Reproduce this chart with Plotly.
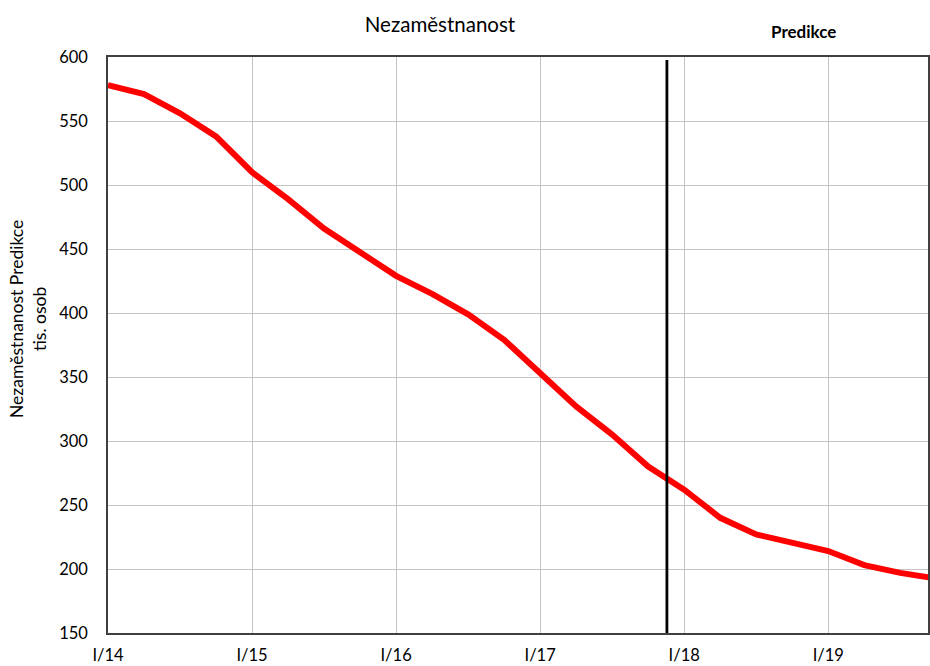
import plotly.graph_objects as go

quarters = ["I/14", "II/14", "III/14", "IV/14",
            "I/15", "II/15", "III/15", "IV/15",
            "I/16", "II/16", "III/16", "IV/16",
            "I/17", "II/17", "III/17", "IV/17",
            "I/18", "II/18", "III/18", "IV/18",
            "I/19", "II/19", "III/19", "IV/19"]
unemployment = [578, 571, 556, 538,
                510, 489, 466, 447,
                429, 415, 399, 379,
                353, 327, 305, 280,
                262, 240, 227, 221,
                214, 203, 197, 192.5]
tick_labels = ["I/14", "I/15", "I/16", "I/17", "I/18", "I/19"]
prediction_start = 15.52  # position (in quarter index) of the forecast boundary

x_idx = list(range(len(quarters)))
tick_vals = [quarters.index(t) for t in tick_labels]

FONT = "Lato, 'Open Sans', sans-serif"

fig = go.Figure()
fig.add_trace(go.Scatter(
    x=x_idx, y=unemployment, mode="lines",
    line=dict(color="#ff0000", width=6),
    hoverinfo="skip", showlegend=False,
))

fig.add_shape(type="line", xref="x", yref="paper",
              x0=prediction_start, x1=prediction_start, y0=0, y1=0.995,
              line=dict(color="black", width=2.8))

fig.update_layout(
    width=930, height=666,
    margin=dict(l=108, r=0, t=57, b=33),
    paper_bgcolor="white", plot_bgcolor="white",
    font=dict(family=FONT, size=16, color="#000"),
    title=dict(text="Nezaměstnanost", x=440/930, xanchor="center",
               y=1-25/666, yanchor="middle", yref="container",
               font=dict(size=20.5, family=FONT, color="#000")),
    xaxis=dict(range=[0, 822/36.1], tickvals=tick_vals, ticktext=tick_labels,
               showgrid=True, gridcolor="#c4c4c4", gridwidth=1,
               showline=True, linecolor="#404040", linewidth=1.5, mirror=True,
               ticks="", ticklabelstandoff=6, zeroline=False,
               tickfont=dict(size=16.5)),
    yaxis=dict(range=[150, 600], dtick=50,
               showgrid=True, gridcolor="#c4c4c4", gridwidth=1,
               showline=True, linecolor="#404040", linewidth=1.5, mirror=True,
               ticks="", ticklabelstandoff=15, zeroline=False,
               tickfont=dict(size=16.5)),
    annotations=[
        dict(text="<b>Predikce</b>", xref="paper", yref="paper",
             x=(805-108)/822, y=1+(57.3-32)/575.7, showarrow=False,
             xanchor="center", yanchor="middle", font=dict(size=17)),
        dict(text="Nezaměstnanost Predikce<br>tis. osob", xref="paper", yref="paper",
             x=(28-108)/822, y=(633-319)/575.7, showarrow=False, textangle=-90,
             xanchor="center", yanchor="middle", font=dict(size=17.5)),
    ],
)

fig.write_html("out.html", config={"displayModeBar": False},
               post_script="document.body.style.margin='0';document.body.style.overflow='hidden';")
